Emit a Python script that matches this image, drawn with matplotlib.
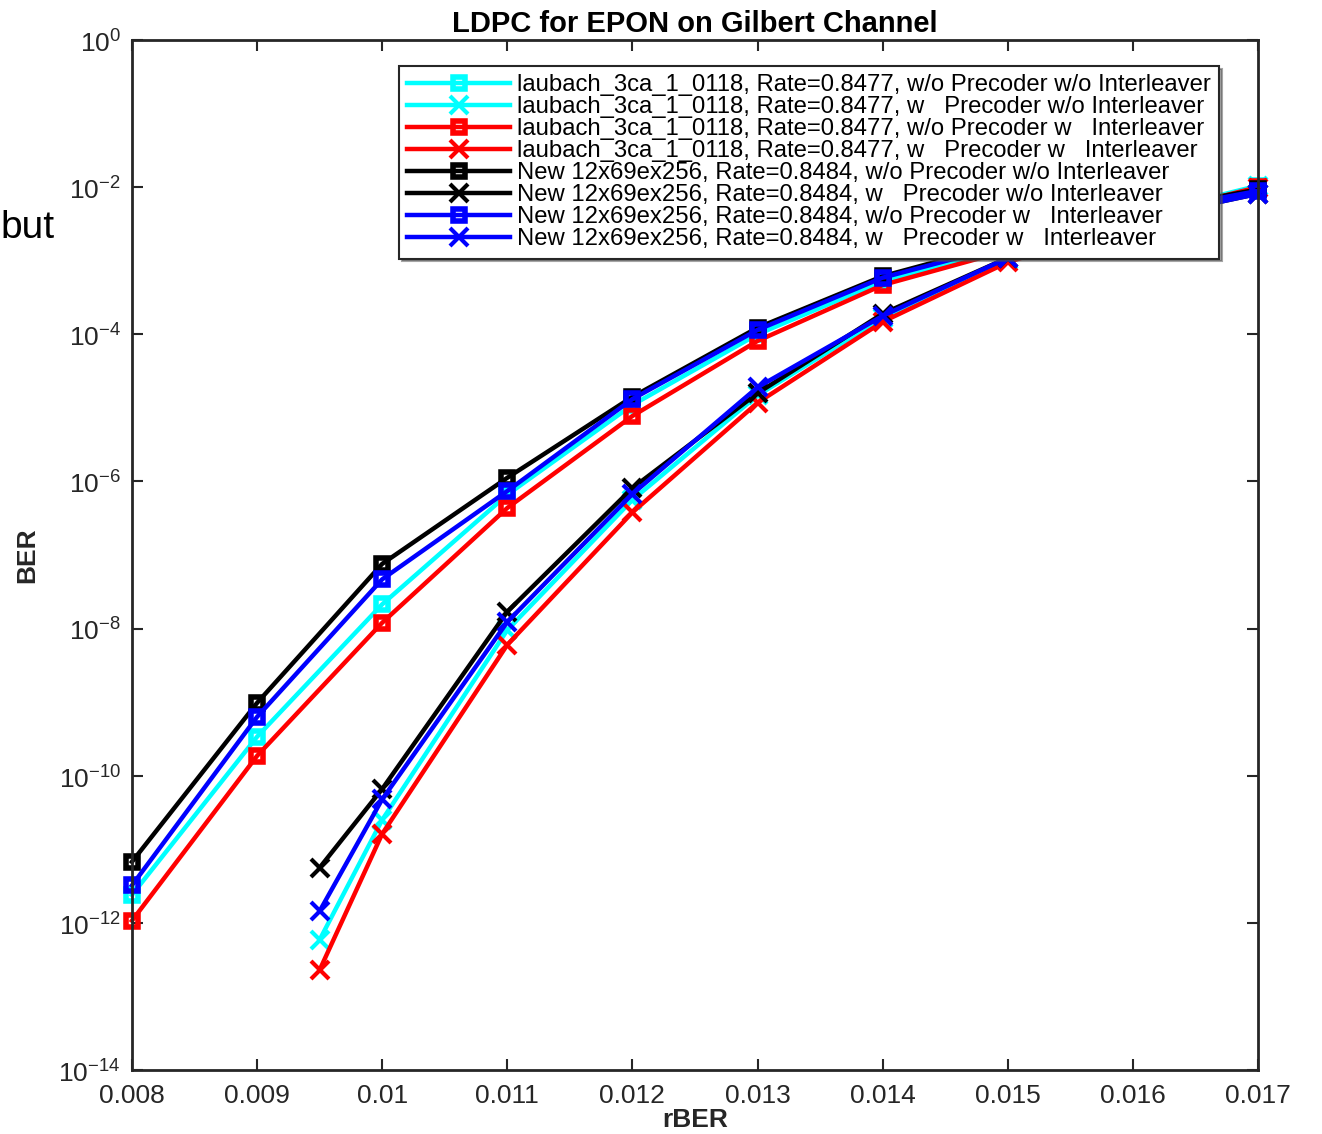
import numpy as np
import matplotlib
matplotlib.use("Agg")
import matplotlib.pyplot as plt

plt.rcParams['font.family'] = ['Liberation Sans', 'DejaVu Sans']
plt.rcParams['mathtext.fontset'] = 'custom'
plt.rcParams['mathtext.rm'] = 'Liberation Sans'

# rBER values
x_sq = [0.008, 0.009, 0.010, 0.011, 0.012, 0.013, 0.014, 0.015, 0.016, 0.017]
x_cr = [0.0095, 0.010, 0.011, 0.012, 0.013, 0.014, 0.015, 0.016, 0.017]

# log10(BER)
laub_nopre_noint = [-11.62, -9.47, -7.67, -6.18, -4.96, -4.00, -3.28, -2.82, -2.40, -1.98]
laub_pre_noint = [-12.23, -10.60, -8.02, -6.25, -4.83, -3.78, -2.99, -2.47, -1.99]
laub_nopre_int = [-11.97, -9.73, -7.92, -6.36, -5.11, -4.09, -3.33, -2.86, -2.42, -2.00]
laub_pre_int = [-12.64, -10.79, -8.22, -6.42, -4.93, -3.83, -3.02, -2.48, -2.01]
new_nopre_noint = [-11.17, -9.01, -7.12, -5.95, -4.85, -3.91, -3.21, -2.75, -2.35, -2.03]
new_pre_noint = [-11.25, -10.18, -7.77, -6.09, -4.80, -3.72, -2.96, -2.45, -2.09]
new_nopre_int = [-11.49, -9.20, -7.33, -6.13, -4.88, -3.94, -3.23, -2.78, -2.37, -2.05]
new_pre_int = [-11.84, -10.32, -7.91, -6.17, -4.72, -3.75, -2.96, -2.45, -2.09]

labels = [
    "laubach_3ca_1_0118, Rate=0.8477, w/o Precoder w/o Interleaver",
    "laubach_3ca_1_0118, Rate=0.8477, w   Precoder w/o Interleaver",
    "laubach_3ca_1_0118, Rate=0.8477, w/o Precoder w   Interleaver",
    "laubach_3ca_1_0118, Rate=0.8477, w   Precoder w   Interleaver",
    "New 12x69ex256, Rate=0.8484, w/o Precoder w/o Interleaver",
    "New 12x69ex256, Rate=0.8484, w   Precoder w/o Interleaver",
    "New 12x69ex256, Rate=0.8484, w/o Precoder w   Interleaver",
    "New 12x69ex256, Rate=0.8484, w   Precoder w   Interleaver",
]

series = [
    (x_sq, laub_nopre_noint, 'cyan', 's'),
    (x_cr, laub_pre_noint, 'cyan', 'x'),
    (x_sq, laub_nopre_int, 'red', 's'),
    (x_cr, laub_pre_int, 'red', 'x'),
    (x_sq, new_nopre_noint, 'black', 's'),
    (x_cr, new_pre_noint, 'black', 'x'),
    (x_sq, new_nopre_int, 'blue', 's'),
    (x_cr, new_pre_int, 'blue', 'x'),
]

fig = plt.figure(figsize=(13.22, 11.34), dpi=100)
ax = fig.add_axes([0.0998, 0.0564, 0.8518, 0.9083])

for (xs, ys, c, m), lab in zip(series, labels):
    if m == 's':
        ax.plot(xs, 10.0 ** np.array(ys), color=c, lw=3.2, marker='s', ms=8,
                mfc='none', mec=c, mew=4, label=lab, clip_on=False)
    else:
        ax.plot(xs, 10.0 ** np.array(ys), color=c, lw=3.2, marker='x', ms=13,
                mew=3, label=lab, clip_on=False)

ax.set_yscale('log')
ax.set_xlim(0.008, 0.017)
ax.set_ylim(1e-14, 1)
ax.set_xticks(np.arange(0.008, 0.0171, 0.001))
ax.set_xticklabels(['0.008', '0.009', '0.01', '0.011', '0.012', '0.013',
                    '0.014', '0.015', '0.016', '0.017'])
yt = np.arange(0, -15, -2)
ax.set_yticks(10.0 ** yt)
ax.set_yticklabels([r'$10^{%d}$' % e for e in yt])
ax.minorticks_off()
ax.tick_params(direction='in', top=True, right=True, length=8, width=1.5,
               labelsize=19, colors='#262626')
ax.tick_params(axis='x', pad=10)
ax.tick_params(axis='y', pad=8)
for sp in ax.spines.values():
    sp.set_linewidth(2)
    sp.set_color('#262626')

ax.set_title("LDPC for EPON on Gilbert Channel", fontsize=21, fontweight='bold', pad=6)
ax.set_xlabel("rBER", fontsize=19, fontweight='bold', labelpad=0, color='#262626')
ax.set_ylabel("BER", fontsize=19, fontweight='bold', labelpad=14, color='#262626')

leg = ax.legend(loc='upper left', bbox_to_anchor=(0.237, 0.975), fontsize=17.2,
                handlelength=4.3, handletextpad=0.3, labelspacing=0.0,
                borderpad=0.35, borderaxespad=0, fancybox=False, shadow=True,
                framealpha=1)
leg.get_frame().set_edgecolor('#262626')
leg.get_frame().set_linewidth(1.5)

fig.text(0.0, 0.799, "but", fontsize=28, va='center', ha='left')

fig.savefig('out.png', dpi=100)
